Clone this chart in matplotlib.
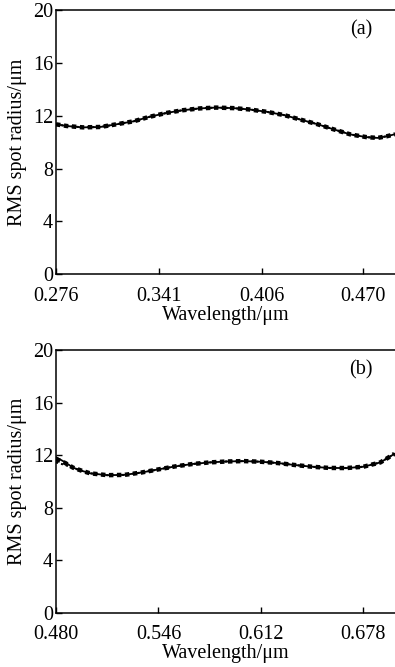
import matplotlib
matplotlib.use('Agg')
import matplotlib.pyplot as plt

plt.rcParams['font.family'] = ['Liberation Serif', 'DejaVu Serif']

# panel (a): 0.276-0.49 um band
wl_a = [0.276, 0.283, 0.293, 0.304, 0.314, 0.325, 0.335, 0.346, 0.356, 0.367, 0.377, 0.388,
        0.398, 0.409, 0.420, 0.430, 0.441, 0.451, 0.462, 0.472, 0.479, 0.485, 0.490]
rms_a = [11.35, 11.22, 11.12, 11.15, 11.35, 11.58, 11.92, 12.22, 12.42, 12.56, 12.62, 12.58,
         12.48, 12.30, 12.05, 11.72, 11.36, 10.98, 10.58, 10.38, 10.32, 10.45, 10.60]
xticks_a = [0.276, 0.341, 0.406, 0.470]

# panel (b): 0.48-0.698 um band, three fields only differ at the short end
wl_b = [0.480, 0.486, 0.491, 0.497, 0.502, 0.513, 0.524, 0.535, 0.546, 0.557, 0.568, 0.579,
        0.590, 0.601, 0.612, 0.623, 0.634, 0.645, 0.656, 0.667, 0.678, 0.689, 0.698]
rms_b_solid = [11.85, 11.45, 11.05, 10.80, 10.62, 10.48, 10.50, 10.68, 10.92, 11.15, 11.33, 11.45,
               11.52, 11.55, 11.50, 11.40, 11.25, 11.12, 11.03, 11.02, 11.12, 11.45, 12.10]
rms_b_dash = [11.70, 11.40, 11.05, 10.80, 10.62, 10.48, 10.50, 10.68, 10.92, 11.15, 11.33, 11.45,
              11.52, 11.55, 11.50, 11.40, 11.25, 11.12, 11.03, 11.02, 11.12, 11.45, 12.10]
rms_b_dot = [11.45, 11.25, 11.02, 10.80, 10.62, 10.48, 10.50, 10.68, 10.92, 11.15, 11.33, 11.45,
             11.52, 11.55, 11.50, 11.40, 11.25, 11.12, 11.03, 11.02, 11.12, 11.45, 12.10]
xticks_b = [0.480, 0.546, 0.612, 0.678]

yticks = [0, 4, 8, 12, 16, 20]

fig = plt.figure(figsize=(3.95, 6.67), dpi=100)
ax_a = fig.add_axes([0.1418, 0.5892, 0.8582, 0.3954])
ax_b = fig.add_axes([0.1418, 0.0810, 0.8582, 0.3943])


def draw(ax, wl, solid, dash, dot, xticks, xlim, tag):
    ax.plot(wl, solid, color='black', lw=1.3)
    ax.plot(wl, dash, color='black', lw=3.2, dashes=(1.0, 0.8))
    ax.plot(wl, dot, color='black', lw=1.5, ls=(0, (1, 1.5)))
    ax.set_xlim(*xlim)
    ax.set_ylim(0, 20)
    ax.set_xticks(xticks)
    ax.set_xticklabels([f'{v:.3f}' for v in xticks])
    ax.set_yticks(yticks)
    ax.tick_params(direction='in', length=4.5, width=1, labelsize=14.5, pad=2)
    ax.tick_params(axis='x', pad=9)
    ax.spines['right'].set_visible(False)
    for s in ('left', 'bottom', 'top'):
        ax.spines[s].set_linewidth(1.1)
    ax.set_xlabel('Wavelength/μm', fontsize=14.5, labelpad=0)
    ax.set_ylabel('RMS spot radius/μm', fontsize=14.5, labelpad=4)
    ax.text(0.90, 0.925, tag, transform=ax.transAxes, fontsize=14.5, ha='center', va='center')


draw(ax_a, wl_a, rms_a, rms_a, rms_a, xticks_a, (0.276, 0.490), '(a)')
draw(ax_b, wl_b, rms_b_solid, rms_b_dash, rms_b_dot, xticks_b, (0.480, 0.6984), '(b)')

fig.savefig('out.png', dpi=100)
